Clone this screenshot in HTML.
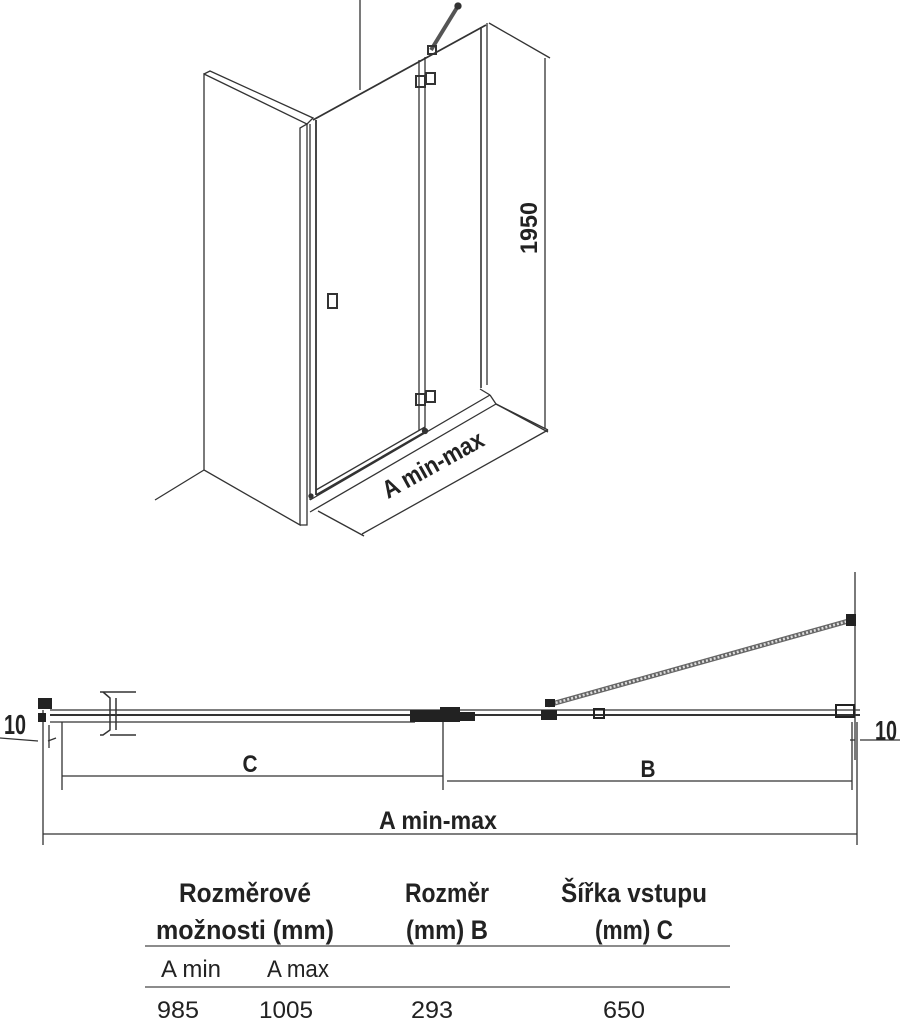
<!DOCTYPE html>
<html><head><meta charset="utf-8"><style>
html,body{margin:0;padding:0;background:#fff;width:920px;height:1024px;overflow:hidden}
svg{display:block}
text{font-family:"Liberation Sans",sans-serif;fill:#222}
</style></head><body>
<svg width="920" height="1024" viewBox="0 0 920 1024" xmlns="http://www.w3.org/2000/svg">
<g stroke="#333" stroke-width="1.3" fill="none">
<polygon points="204,74 307,124 300,128 300,525 204,470" fill="#fff"/>
<polyline points="204,74 210,71 313,118 307,124 307,525 300,525"/>
<line x1="155" y1="500" x2="204" y2="470"/>
<line x1="360" y1="0" x2="360" y2="90"/>
<line x1="313" y1="120" x2="486" y2="25" stroke-width="1.8"/>
<line x1="310" y1="124" x2="310" y2="500"/>
<line x1="316" y1="120" x2="316" y2="495" stroke-width="1.8"/>
<line x1="481" y1="27" x2="481" y2="388" stroke-width="1.6"/>
<line x1="487" y1="23" x2="487" y2="385"/>
<line x1="419" y1="60" x2="419" y2="430"/>
<line x1="425" y1="57" x2="425" y2="430"/>
<rect x="416" y="76" width="9" height="11" stroke-width="2"/>
<rect x="426" y="73" width="9" height="11" stroke-width="2"/>
<rect x="416" y="394" width="9" height="11" stroke-width="2"/>
<rect x="426" y="391" width="9" height="11" stroke-width="2"/>
<rect x="328" y="294" width="9" height="14" stroke-width="2"/>
<line x1="431" y1="50" x2="458" y2="6" stroke-width="4" stroke="#555"/>
<circle cx="458" cy="6" r="3" fill="#333"/>
<rect x="428" y="46" width="8" height="8" stroke-width="2"/>
<line x1="316" y1="495" x2="425" y2="432" stroke-width="1.8"/>
<line x1="316" y1="490" x2="425" y2="427"/>
<line x1="310" y1="500" x2="490" y2="395"/>
<line x1="310" y1="512" x2="496" y2="404"/>
<line x1="490" y1="395" x2="496" y2="404"/>
<line x1="496" y1="404" x2="548" y2="430"/>
<line x1="480" y1="389" x2="490" y2="395"/>
<circle cx="425" cy="431" r="2.5" fill="#333"/>
<circle cx="311" cy="496" r="2" fill="#333"/>
<line x1="489" y1="23" x2="550" y2="58"/>
<line x1="545" y1="58" x2="545" y2="428"/>
<line x1="496" y1="404" x2="548" y2="432"/>
<line x1="318" y1="511" x2="364" y2="536"/>
<line x1="362" y1="534" x2="548" y2="430"/>
</g>
<text transform="translate(537,228) rotate(-90)" text-anchor="middle" font-size="24" font-weight="bold" textLength="52" lengthAdjust="spacingAndGlyphs">1950</text>
<text transform="translate(437,472) rotate(-29)" text-anchor="middle" font-size="25" font-weight="bold" textLength="112" lengthAdjust="spacingAndGlyphs">A min-max</text>

<g stroke="#333" stroke-width="1.3" fill="none">
<line x1="855" y1="572" x2="855" y2="760"/>
<line x1="50" y1="710" x2="860" y2="710"/>
<line x1="50" y1="715" x2="860" y2="715" stroke-width="2"/>
<line x1="50" y1="722" x2="415" y2="722"/>
<line x1="548" y1="705" x2="852" y2="620" stroke-width="5" stroke="#666"/>
<line x1="548" y1="705" x2="852" y2="620" stroke-width="2.5" stroke="#ddd" stroke-dasharray="2,2"/>
<path d="M100,692 L136,692 M103,692 L110,698 L110,730 L103,735 L100,735 M110,735 L136,735 M116,698 L116,730" stroke-width="1.5"/>
<line x1="43" y1="710" x2="43" y2="845"/>
<line x1="62" y1="722" x2="62" y2="790"/>
<line x1="443" y1="722" x2="443" y2="790"/>
<line x1="852" y1="722" x2="852" y2="790"/>
<line x1="857" y1="722" x2="857" y2="845"/>
<line x1="62" y1="776" x2="443" y2="776"/>
<line x1="447" y1="781" x2="852" y2="781"/>
<line x1="43" y1="834" x2="857" y2="834"/>
<line x1="0" y1="738" x2="38" y2="741"/>
<line x1="48" y1="741" x2="56" y2="738"/>
<line x1="850" y1="740" x2="855" y2="740"/>
<line x1="860" y1="740" x2="900" y2="740"/>
<line x1="49" y1="725" x2="49" y2="748"/>
</g>
<g fill="#222">
<rect x="38" y="698" width="14" height="11"/>
<rect x="38" y="713" width="8" height="9"/>
<rect x="410" y="710" width="30" height="12"/>
<rect x="440" y="707" width="20" height="15"/>
<rect x="460" y="712" width="15" height="9"/>
<rect x="541" y="710" width="16" height="10"/>
<rect x="545" y="699" width="10" height="8"/>
<rect x="846" y="614" width="10" height="12"/>
<rect x="836" y="705" width="18" height="12" fill="none" stroke="#222" stroke-width="2"/>
<rect x="594" y="709" width="10" height="9" fill="none" stroke="#222" stroke-width="2"/>
</g>
<text x="250" y="772" text-anchor="middle" font-size="24" font-weight="bold" textLength="15" lengthAdjust="spacingAndGlyphs">C</text>
<text x="648" y="777" text-anchor="middle" font-size="24" font-weight="bold" textLength="15" lengthAdjust="spacingAndGlyphs">B</text>
<text x="438" y="829" text-anchor="middle" font-size="25" font-weight="bold" textLength="118" lengthAdjust="spacingAndGlyphs">A min-max</text>
<text x="15" y="734" text-anchor="middle" font-size="28" font-weight="bold" textLength="22" lengthAdjust="spacingAndGlyphs">10</text>
<text x="886" y="740" text-anchor="middle" font-size="28" font-weight="bold" textLength="22" lengthAdjust="spacingAndGlyphs">10</text>

<g stroke="#666" stroke-width="1.5">
<line x1="145" y1="946" x2="730" y2="946"/>
<line x1="145" y1="987" x2="730" y2="987"/>
</g>
<g font-weight="bold" font-size="27" text-anchor="middle">
<text x="245" y="902" textLength="132" lengthAdjust="spacingAndGlyphs">Rozměrové</text>
<text x="245" y="939" textLength="178" lengthAdjust="spacingAndGlyphs">možnosti (mm)</text>
<text x="447" y="902" textLength="84" lengthAdjust="spacingAndGlyphs">Rozměr</text>
<text x="447" y="939" textLength="82" lengthAdjust="spacingAndGlyphs">(mm) B</text>
<text x="634" y="902" textLength="146" lengthAdjust="spacingAndGlyphs">Šířka vstupu</text>
<text x="634" y="939" textLength="78" lengthAdjust="spacingAndGlyphs">(mm) C</text>
</g>
<g font-size="24" text-anchor="start">
<text x="161" y="977" textLength="60" lengthAdjust="spacingAndGlyphs">A min</text>
<text x="267" y="977" textLength="62" lengthAdjust="spacingAndGlyphs">A max</text>
<text x="157" y="1018" textLength="42" lengthAdjust="spacingAndGlyphs">985</text>
<text x="259" y="1018" textLength="54" lengthAdjust="spacingAndGlyphs">1005</text>
<text x="411" y="1018" textLength="42" lengthAdjust="spacingAndGlyphs">293</text>
<text x="603" y="1018" textLength="42" lengthAdjust="spacingAndGlyphs">650</text>
</g>
</svg>
</body></html>
